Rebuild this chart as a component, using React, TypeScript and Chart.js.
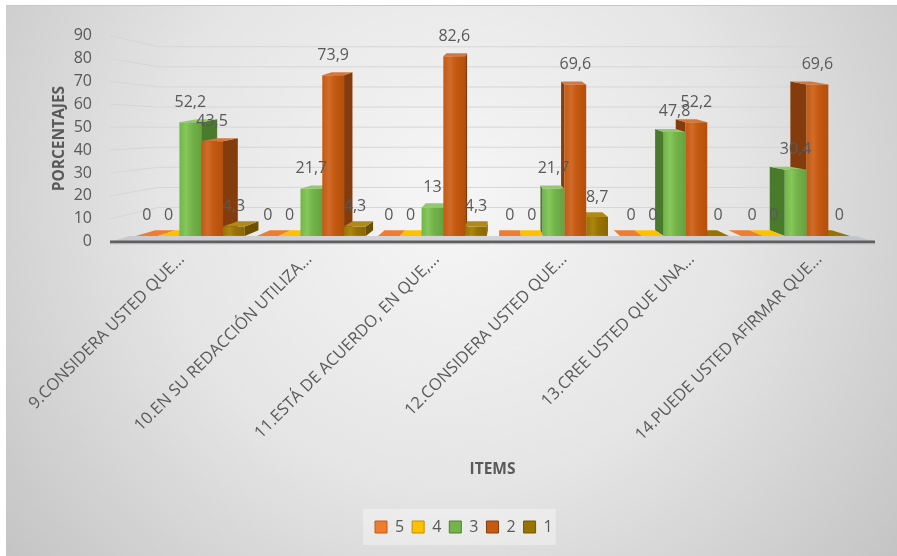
import React, { useEffect, useRef } from "react";
import { Chart, registerables } from "chart.js";

Chart.register(...registerables);

// ---- data ----
const categories = [
  "9.CONSIDERA USTED QUE...",
  "10.EN SU REDACCIÓN UTILIZA...",
  "11.ESTÁ DE ACUERDO, EN QUE,...",
  "12.CONSIDERA USTED QUE...",
  "13.CREE USTED QUE UNA...",
  "14.PUEDE USTED AFIRMAR QUE...",
];
const seriesLabels = ["5", "4", "3", "2", "1"];
const serie5 = [0, 0, 0, 0, 0, 0];
const serie4 = [0, 0, 0, 0, 0, 0];
const serie3 = [52.2, 21.7, 13, 21.7, 47.8, 30.4];
const serie2 = [43.5, 73.9, 82.6, 69.6, 52.2, 69.6];
const serie1 = [4.3, 4.3, 4.3, 8.7, 0, 0];
const yTickValues = [0, 10, 20, 30, 40, 50, 60, 70, 80, 90];

// ---- styling ----
const FONT = "'Open Sans', sans-serif";
const TEXT = "#595959";
const faces = [
  { front: "#ED7D31", light: "#F39A5C", dark: "#D96C22", side: "#B35A1F", top: "#EE8A48", border: "#C55A11" },
  { front: "#FFC000", light: "#FFD040", dark: "#E8AE00", side: "#BF9000", top: "#F2B81C", border: "#BF9000" },
  { front: "#74B44A", light: "#86C85C", dark: "#66A23F", side: "#4A7A2C", top: "#93C770", border: "#507E32" },
  { front: "#C55A11", light: "#D06C2A", dark: "#B44F0C", side: "#843C0C", top: "#D5773A", border: "#843C0C" },
  { front: "#997300", light: "#AC8510", dark: "#8A6700", side: "#6B5000", top: "#B08A14", border: "#725600" },
];

// 3D projection of the plot box: bars sit between two depth planes and
// everything converges towards a point inside the plot area.
const VX_FRAC = 0.5124;
const VY_FRAC = 0.444;
const SHRINK = 0.123;
const Z_FRONT = 0.41;
const Z_BACK = 0.82;
const TOP_LIFT = 3;

type Area = { left: number; right: number; top: number; bottom: number };

function vanish(ca: Area) {
  return [
    ca.left + (ca.right - ca.left) * VX_FRAC,
    ca.top + (ca.bottom - ca.top) * VY_FRAC,
  ];
}

function project(ca: Area, X: number, Y: number, z: number): [number, number] {
  const [vx, vy] = vanish(ca);
  const k = 1 - SHRINK * z;
  return [vx + (X - vx) * k, vy + (Y - vy) * k];
}

function poly(ctx: CanvasRenderingContext2D, pts: number[][], fill: string | CanvasGradient) {
  ctx.beginPath();
  ctx.moveTo(pts[0][0], pts[0][1]);
  for (let i = 1; i < pts.length; i++) ctx.lineTo(pts[i][0], pts[i][1]);
  ctx.closePath();
  ctx.fillStyle = fill;
  ctx.fill();
}

function fmt(v: number) {
  return String(v).replace(".", ",");
}

const LEGEND_LEFT = 375;
const LEGEND_MID = 527;

const decor = {
  id: "decor3d",
  afterUpdate(chart: any) {
    const lg = chart.legend;
    if (!lg || !lg.legendHitBoxes || !lg.legendHitBoxes.length) return;
    const first = lg.legendHitBoxes[0];
    const dx = LEGEND_LEFT - first.left;
    const dy = LEGEND_MID - (first.top + first.height / 2);
    lg.left += dx;
    lg.right += dx;
    lg.top += dy;
    lg.bottom += dy;
    lg.legendHitBoxes.forEach((b: any) => {
      b.left += dx;
      b.top += dy;
    });
  },
  beforeDraw(chart: any) {
    const { ctx, width, height } = chart;
    ctx.save();
    ctx.fillStyle = "#ffffff";
    ctx.fillRect(0, 0, width, height);
    const g = ctx.createRadialGradient(450, 200, 0, 450, 200, 640);
    g.addColorStop(0, "#f6f6f6");
    g.addColorStop(0.45, "#e5e5e5");
    g.addColorStop(1, "#bcbcbc");
    ctx.fillStyle = g;
    ctx.fillRect(6, 5, width - 6, height - 5);
    ctx.strokeStyle = "#c8c8c8";
    ctx.lineWidth = 1;
    ctx.beginPath();
    ctx.moveTo(6, 5.5);
    ctx.lineTo(width, 5.5);
    ctx.stroke();
    const lg = chart.legend;
    if (lg && lg.legendHitBoxes && lg.legendHitBoxes.length) {
      const boxes = lg.legendHitBoxes;
      const l = Math.min(...boxes.map((b: any) => b.left)) - 12;
      const r = Math.max(...boxes.map((b: any) => b.left + b.width)) + 3;
      const cy = boxes[0].top + boxes[0].height / 2;
      ctx.fillStyle = "rgba(255,255,255,0.35)";
      ctx.fillRect(l, cy - 18, r - l, 36);
    }
    ctx.restore();
  },
  beforeDatasetsDraw(chart: any) {
    const { ctx, chartArea: ca, scales } = chart;
    const ys = scales.y;
    ctx.save();
    // floor
    const f0l = project(ca, ca.left, ca.bottom, 0);
    const f0r = project(ca, ca.right, ca.bottom, 0);
    const f1r = project(ca, ca.right, ca.bottom, Z_FRONT);
    const f1l = project(ca, ca.left, ca.bottom, Z_FRONT);
    poly(ctx, [f0l, f0r, f1r, f1l], "rgba(170,176,186,0.45)");
    // back and side wall gridlines
    ctx.strokeStyle = "#d6d6d6";
    ctx.lineWidth = 1;
    yTickValues.forEach((v) => {
      if (v === 0) return;
      const Y = ys.getPixelForValue(v);
      const a = project(ca, ca.left, Y, 0);
      const b = project(ca, ca.left, Y, 1);
      const c = project(ca, ca.right, Y, 1);
      ctx.beginPath();
      ctx.moveTo(a[0], a[1]);
      ctx.lineTo(b[0], b[1]);
      ctx.lineTo(c[0], c[1]);
      ctx.stroke();
    });
    ctx.restore();
  },
  beforeDatasetDraw() {
    return false;
  },
  afterDatasetsDraw(chart: any) {
    const { ctx, chartArea: ca } = chart;
    const [vx] = vanish(ca);
    const items: any[] = [];
    chart.data.datasets.forEach((ds: any, d: number) => {
      const meta = chart.getDatasetMeta(d);
      if (meta.hidden) return;
      meta.data.forEach((el: any, i: number) => {
        const p = el.getProps(["x", "y", "base", "width"], true);
        items.push({ d, i, x: p.x, y: p.y, base: p.base, width: p.width, value: ds.data[i] });
      });
    });
    items.sort((a, b) => Math.abs(b.x - vx) - Math.abs(a.x - vx));
    ctx.save();
    // floor front edge
    const e0 = project(ca, ca.left, ca.bottom, 0);
    const e1 = project(ca, ca.right, ca.bottom, 0);
    ctx.strokeStyle = "#a9a9a9";
    ctx.lineWidth = 1;
    ctx.beginPath();
    ctx.moveTo(e0[0], e0[1] + 2);
    ctx.lineTo(e1[0], e1[1] + 2);
    ctx.stroke();
    ctx.strokeStyle = "#5f5f5f";
    ctx.lineWidth = 2.5;
    ctx.beginPath();
    ctx.moveTo(e0[0], e0[1]);
    ctx.lineTo(e1[0], e1[1]);
    ctx.stroke();

    items.forEach((it) => {
      const c = faces[it.d];
      const X0 = it.x - it.width / 2;
      const X1 = it.x + it.width / 2;
      const Yt = Math.min(it.y, it.base);
      const Yb = Math.max(it.y, it.base);
      const ftl = project(ca, X0, Yt, Z_FRONT);
      const ftr = project(ca, X1, Yt, Z_FRONT);
      const fbr = project(ca, X1, Yb, Z_FRONT);
      const fbl = project(ca, X0, Yb, Z_FRONT);
      let btl = project(ca, X0, Yt, Z_BACK);
      let btr = project(ca, X1, Yt, Z_BACK);
      if (btl[1] > ftl[1] - TOP_LIFT) {
        btl = [btl[0], ftl[1] - TOP_LIFT];
        btr = [btr[0], ftr[1] - TOP_LIFT];
      }
      const bbr = project(ca, X1, Yb, Z_BACK);
      const bbl = project(ca, X0, Yb, Z_BACK);
      if (X1 < vx) poly(ctx, [ftr, btr, bbr, fbr], c.side);
      else if (X0 > vx) poly(ctx, [ftl, btl, bbl, fbl], c.side);
      poly(ctx, [ftl, ftr, btr, btl], Yb - Yt > 0.5 ? c.top : c.front);
      if (Yb - Yt > 0.5) {
        const g = ctx.createLinearGradient(ftl[0], 0, ftr[0], 0);
        g.addColorStop(0, c.front);
        g.addColorStop(0.3, c.light);
        g.addColorStop(0.55, c.front);
        g.addColorStop(1, c.dark);
        poly(ctx, [ftl, ftr, fbr, fbl], g);
      }
    });

    ctx.fillStyle = TEXT;
    ctx.font = `16px ${FONT}`;
    ctx.textAlign = "center";
    ctx.textBaseline = "middle";
    items.forEach((it) => {
      const Yt = Math.min(it.y, it.base);
      const p = project(ca, it.x, Yt, Z_FRONT);
      ctx.fillText(fmt(it.value), p[0], p[1] - 20);
    });
    ctx.restore();
  },
};

export default function App() {
  const ref = useRef<HTMLCanvasElement | null>(null);

  useEffect(() => {
    if (!ref.current) return;
    Chart.defaults.font.family = FONT;
    const series = [serie5, serie4, serie3, serie2, serie1];
    const chart = new Chart(ref.current, {
      type: "bar",
      data: {
        labels: categories,
        datasets: series.map((data, k) => ({
          label: seriesLabels[k],
          data,
          backgroundColor: faces[k].front,
          borderColor: faces[k].border,
          borderWidth: 1,
        })),
      },
      options: {
        responsive: false,
        devicePixelRatio: 1,
        animation: false,
        layout: { padding: { left: 6, right: 22, top: 35.5, bottom: 43 } },
        datasets: { bar: { categoryPercentage: 0.9, barPercentage: 1 } },
        scales: {
          x: {
            grid: { display: false },
            border: { display: false },
            ticks: {
              color: TEXT,
              font: { size: 16.5 },
              minRotation: 45,
              maxRotation: 45,
              autoSkip: false,
              padding: 0,
              labelOffset: 8,
            },
            title: {
              display: true,
              text: "ITEMS",
              color: TEXT,
              font: { size: 15.5, weight: "bold" },
              padding: { top: 0, bottom: 0 },
            },
            afterFit: (s: any) => {
              s.height = 237.3;
            },
          },
          y: {
            min: 0,
            max: 90,
            grid: { display: false },
            border: { display: false },
            ticks: {
              stepSize: 10,
              color: TEXT,
              font: { size: 16 },
              padding: 10,
            },
            title: {
              display: true,
              text: "PORCENTAJES",
              color: TEXT,
              font: { size: 15.5, weight: "bold" },
              padding: { top: 44, bottom: 0 },
            },
            afterFit: (s: any) => {
              s.width = 104;
            },
          },
        },
        plugins: {
          legend: {
            position: "bottom",
            labels: {
              color: TEXT,
              font: { size: 16 },
              boxWidth: 12,
              boxHeight: 12,
              padding: 8,
            },
          },
          tooltip: { enabled: false },
        },
      },
      plugins: [decor],
    } as any);
    return () => chart.destroy();
  }, []);

  return (
    <canvas
      ref={ref}
      width={897}
      height={556}
      style={{ position: "absolute", left: 0, top: 0, width: 897, height: 556 }}
    />
  );
}
